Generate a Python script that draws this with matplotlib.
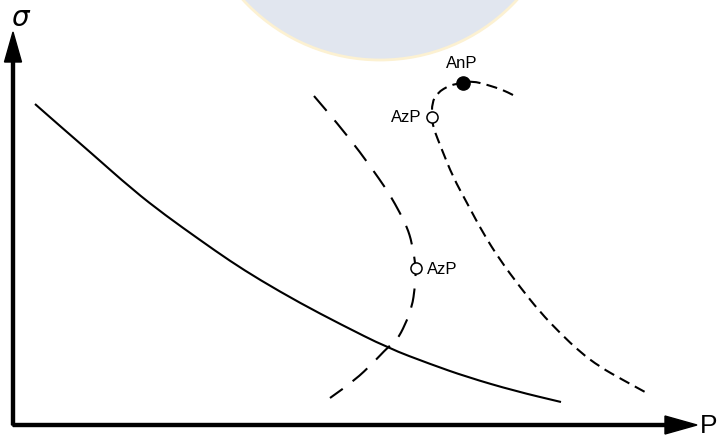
import matplotlib
matplotlib.use("Agg")
import matplotlib.pyplot as plt
from matplotlib.patches import Circle, PathPatch
from matplotlib.path import Path

plt.rcParams['lines.scale_dashes'] = False

# curve coordinates (x, y in pixels, y measured downwards)
solid_x = [35, 60, 90, 133, 165, 200, 230, 260, 300, 340, 388, 430, 467, 515, 561]
solid_y = [104, 126, 152, 190, 215, 240, 261, 280, 303, 324, 348, 364, 377, 391, 402]

long_x = [314, 337, 360, 380, 390, 400, 407, 412, 416, 415, 412, 405, 397, 388, 373, 355, 330]
long_y = [96, 123, 152, 180, 195, 213, 227, 243, 268, 287, 307, 325, 340, 347, 363, 380, 398]

short_x = [513, 503, 488, 472, 463, 450, 437, 432, 432, 433, 442, 453, 467, 483, 500, 520, 540, 560, 580, 600, 623, 645]
short_y = [95, 90, 85, 81, 83, 85, 93, 103, 117, 127, 150, 177, 203, 233, 260, 287, 312, 333, 352, 367, 380, 392]

# marked points on the dashed curves
azp_long = (416, 268)
azp_short = (432, 117)
anp_short = (463, 83)


def smooth_path(xs, ys):
    # quadratic bezier through the midpoints, the listed points act as controls
    pts = list(zip(xs, ys))
    verts = [pts[0]]
    codes = [Path.MOVETO]
    first_mid = ((pts[0][0] + pts[1][0]) / 2, (pts[0][1] + pts[1][1]) / 2)
    verts.append(first_mid)
    codes.append(Path.LINETO)
    for i in range(1, len(pts) - 1):
        mid = ((pts[i][0] + pts[i + 1][0]) / 2, (pts[i][1] + pts[i + 1][1]) / 2)
        verts += [pts[i], mid]
        codes += [Path.CURVE3, Path.CURVE3]
    verts.append(pts[-1])
    codes.append(Path.LINETO)
    return Path(verts, codes)


fig = plt.figure(figsize=(7.19, 4.37), dpi=100)
ax = fig.add_axes([0, 0, 1, 1])
ax.set_xlim(0, 719)
ax.set_ylim(437, 0)
ax.axis('off')

# faint seal in the background
ax.add_patch(Circle((380, -126), 186, facecolor='#e1e6ef', edgecolor='#fcf1d2', lw=2, zorder=0))

# axes arrows
ax.arrow(13, 425, 0, -393, width=3, head_width=17, head_length=30,
         length_includes_head=True, color='k', zorder=3)
ax.arrow(13, 425, 684, 0, width=3, head_width=18, head_length=32,
         length_includes_head=True, color='k', zorder=3)

ax.add_patch(PathPatch(smooth_path(solid_x, solid_y), fill=False, color='k', lw=1.5, capstyle='butt'))
ax.add_patch(PathPatch(smooth_path(long_x, long_y), fill=False, color='k', lw=1.5,
                       linestyle=(0, (14, 9)), capstyle='butt'))
ax.add_patch(PathPatch(smooth_path(short_x, short_y), fill=False, color='k', lw=1.5,
                       linestyle=(0, (8, 4.5)), capstyle='butt'))

ax.plot(*azp_long, marker='o', ms=8, mfc='white', mec='k', mew=1.1, zorder=4)
ax.plot(*azp_short, marker='o', ms=8, mfc='white', mec='k', mew=1.1, zorder=4)
ax.plot(*anp_short, marker='o', ms=9.5, mfc='k', mec='k', zorder=4)

font = 'Liberation Sans'
ax.text(anp_short[0] - 1, anp_short[1] - 19, 'AnP', fontsize=12, family=font, ha='center', va='center')
ax.text(azp_short[0] - 11, azp_short[1] + 1, 'AzP', fontsize=12, family=font, ha='right', va='center')
ax.text(azp_long[0] + 11, azp_long[1] + 2, 'AzP', fontsize=12, family=font, ha='left', va='center')

ax.text(700, 426, 'P', fontsize=19, family=font, ha='left', va='center')
ax.text(21, 18, r'$\sigma$', fontsize=20, ha='center', va='center')

fig.savefig('out.png', dpi=100)
